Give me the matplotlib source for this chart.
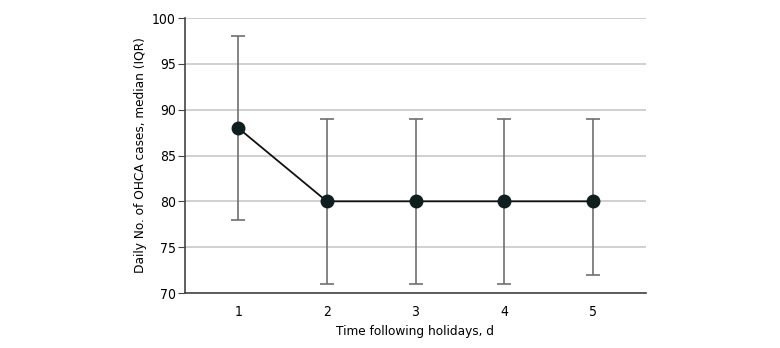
import matplotlib.pyplot as plt

days = [1, 2, 3, 4, 5]
median = [88, 80, 80, 80, 80]
q1 = [78, 71, 71, 71, 72]
q3 = [98, 89, 89, 89, 89]

plt.rcParams['font.family'] = ['DejaVu Sans']
plt.rcParams['font.stretch'] = 'condensed'

fig = plt.figure(figsize=(7.8, 3.48), dpi=100)
ax = fig.add_axes([185 / 780, 1 - 293 / 348, (646 - 185) / 780, (293 - 18) / 348])

lower = [m - a for m, a in zip(median, q1)]
upper = [b - m for m, b in zip(median, q3)]
ax.errorbar(days, median, yerr=[lower, upper], fmt='none', ecolor='#707070',
            elinewidth=1.2, capsize=4.8, capthick=1.2, zorder=2)
ax.plot(days, median, color='#111111', lw=1.3, marker='o', markersize=9,
        markerfacecolor='#0d1f1f', markeredgecolor='#0d1f1f', zorder=3)

ax.set_xlim(0.4, 5.6)
ax.set_ylim(70, 100)
ax.set_yticks(range(70, 101, 5))
ax.set_xticks(days)
ax.yaxis.grid(True, color='#c8c8c8', lw=1.2)
ax.set_axisbelow(True)
for s in ['top', 'right']:
    ax.spines[s].set_visible(False)
for s in ['left', 'bottom']:
    ax.spines[s].set_color('#444444')
    ax.spines[s].set_linewidth(1.2)
ax.tick_params(axis='y', length=5, color='#444444', labelsize=10, pad=1.5)
ax.tick_params(axis='x', length=0, pad=9, labelsize=10)
ax.set_xlabel('Time following holidays, d', fontsize=9.7, labelpad=4)
ax.set_ylabel('Daily No. of OHCA cases, median (IQR)', fontsize=9.7, labelpad=4)

fig.savefig('out.png', dpi=100)
